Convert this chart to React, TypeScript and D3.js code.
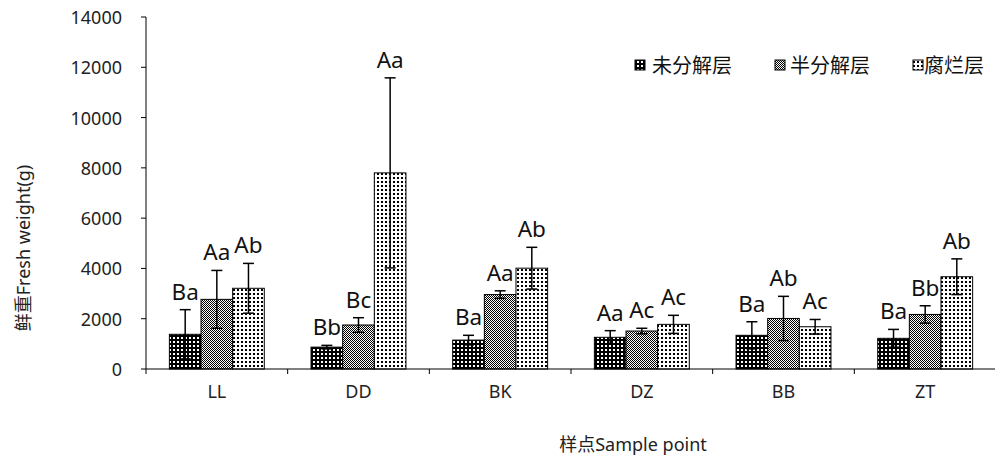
import React from "react";
import * as d3 from "d3";

const categories = ["LL", "DD", "BK", "DZ", "BB", "ZT"];
const seriesNames = ["未分解层", "半分解层", "腐烂层"];
const undecomposed = [1380, 870, 1150, 1260, 1340, 1220];
const undecomposedErr = [980, 70, 190, 265, 540, 355];
const semiDecomposed = [2770, 1750, 2960, 1510, 2010, 2170];
const semiDecomposedErr = [1150, 290, 150, 110, 880, 345];
const decomposed = [3210, 7800, 4010, 1775, 1680, 3670];
const decomposedErr = [990, 3780, 830, 360, 290, 710];
const undecomposedLabels = ["Ba", "Bb", "Ba", "Aa", "Ba", "Ba"];
const semiDecomposedLabels = ["Aa", "Bc", "Aa", "Ac", "Ab", "Bb"];
const decomposedLabels = ["Ab", "Aa", "Ab", "Ac", "Ac", "Ab"];
const yTicks = [0, 2000, 4000, 6000, 8000, 10000, 12000, 14000];

const W = 995;
const H = 461;
const FONT = "'Noto Sans', 'Noto Sans CJK SC', sans-serif";

export default function App() {
  const left = 146;
  const right = 996;
  const y = d3.scaleLinear().domain([0, 14000]).range([369, 17]);
  const x0 = d3.scaleBand<string>().domain(categories).range([left, right]).padding(0);
  const bw = x0.bandwidth();
  const groupW = bw * 0.67;
  const x1 = d3.scaleBand<string>().domain(seriesNames).range([0, groupW]).padding(0);

  const values = [undecomposed, semiDecomposed, decomposed];
  const errs = [undecomposedErr, semiDecomposedErr, decomposedErr];
  const labels = [undecomposedLabels, semiDecomposedLabels, decomposedLabels];
  const patterns = ["pat0", "pat1", "pat2"];

  const legendItems = [
    { mx: 635, tx: 652 },
    { mx: 775, tx: 790 },
    { mx: 913, tx: 924 },
  ];

  return (
    <svg
      width={W}
      height={H}
      style={{ position: "absolute", left: 0, top: 0, background: "#fff" }}
      fontFamily={FONT}
    >
      <defs>
        <pattern id="pat0" width={4} height={4} patternUnits="userSpaceOnUse">
          <rect width={4} height={4} fill="#000" />
          <rect x={1} y={1} width={2} height={2} fill="#fff" />
        </pattern>
        <pattern id="pat1" width={2} height={2} patternUnits="userSpaceOnUse">
          <rect width={2} height={2} fill="#fff" />
          <rect x={0} y={0} width={1} height={1} fill="#000" />
          <rect x={1} y={1} width={1} height={1} fill="#000" />
        </pattern>
        <pattern id="pat2" width={4} height={4} patternUnits="userSpaceOnUse">
          <rect width={4} height={4} fill="#fff" />
          <rect x={1} y={1} width={2} height={2} fill="#000" />
        </pattern>
      </defs>

      {/* y axis */}
      <line x1={left} x2={left} y1={y(14000)} y2={374} stroke="#000" strokeWidth={1} />
      {yTicks.map((t) => (
        <g key={t}>
          <line x1={left - 5} x2={left} y1={y(t)} y2={y(t)} stroke="#000" strokeWidth={1} />
          <text
            x={122}
            y={y(t)}
            textAnchor="end"
            dominantBaseline="central"
            fontSize={18}
            fill="#222"
          >
            {t}
          </text>
        </g>
      ))}

      {/* bars */}
      {categories.map((c, ci) => {
        const gx = (x0(c) as number) + (bw - groupW) / 2;
        return (
          <g key={c}>
            {seriesNames.map((s, si) => {
              const v = values[si][ci];
              const e = errs[si][ci];
              const bx = gx + (x1(s) as number);
              const w = x1.bandwidth();
              const cx = bx + w / 2;
              return (
                <g key={s}>
                  <rect
                    x={bx}
                    y={y(v)}
                    width={w}
                    height={y(0) - y(v)}
                    fill={`url(#${patterns[si]})`}
                    stroke="#000"
                    strokeWidth={1}
                  />
                  <line x1={cx} x2={cx} y1={y(v - e)} y2={y(v + e)} stroke="#000" strokeWidth={1.5} />
                  <line x1={cx - 5.5} x2={cx + 5.5} y1={y(v + e)} y2={y(v + e)} stroke="#000" strokeWidth={1.5} />
                  <line x1={cx - 5.5} x2={cx + 5.5} y1={y(v - e)} y2={y(v - e)} stroke="#000" strokeWidth={1.5} />
                  <text
                    x={cx}
                    y={y(v + e) - 10}
                    textAnchor="middle"
                    fontSize={22.5}
                    fill="#111"
                  >
                    {labels[si][ci]}
                  </text>
                </g>
              );
            })}
          </g>
        );
      })}

      {/* x axis */}
      <line x1={left} x2={right} y1={y(0)} y2={y(0)} stroke="#000" strokeWidth={1} />
      {categories.map((c, ci) =>
        ci > 0 ? (
          <line
            key={c}
            x1={x0(c) as number}
            x2={x0(c) as number}
            y1={y(0)}
            y2={y(0) + 5}
            stroke="#000"
            strokeWidth={1}
          />
        ) : null
      )}
      {categories.map((c) => (
        <text
          key={c}
          x={(x0(c) as number) + bw / 2}
          y={398}
          textAnchor="middle"
          fontSize={18}
          fill="#222"
        >
          {c}
        </text>
      ))}

      {/* axis titles */}
      <text x={633} y={451} textAnchor="middle" fontSize={18} fill="#222">
        样点Sample point
      </text>
      <text
        transform={`translate(30,248) rotate(-90)`}
        textAnchor="middle"
        fontSize={18}
        fill="#222"
      >
        鲜重Fresh weight(g)
      </text>

      {/* legend */}
      {seriesNames.map((s, si) => (
        <g key={s}>
          <rect
            x={legendItems[si].mx}
            y={60}
            width={10}
            height={10}
            fill={`url(#${patterns[si]})`}
            stroke="#000"
            strokeWidth={1}
          />
          <text
            x={legendItems[si].tx}
            y={65}
            dominantBaseline="central"
            fontSize={20}
            fill="#111"
          >
            {s}
          </text>
        </g>
      ))}
    </svg>
  );
}
